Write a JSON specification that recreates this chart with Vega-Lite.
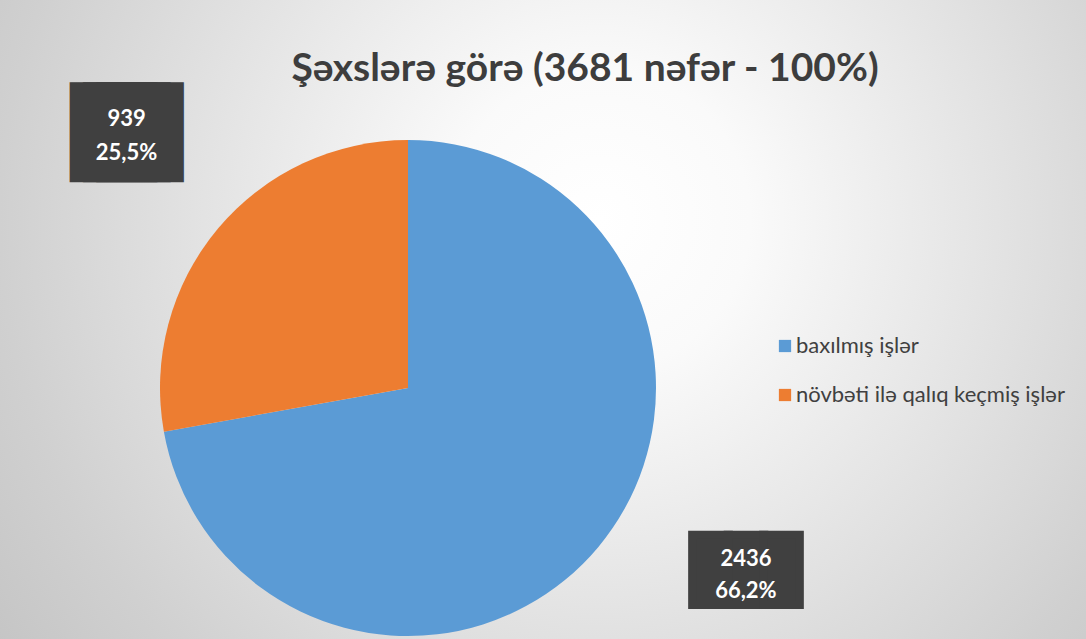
{
  "$schema": "https://vega.github.io/schema/vega-lite/v6.json",
  "width": 496,
  "height": 496,
  "autosize": {"type": "none"},
  "padding": {"left": 160, "top": 140, "right": 430, "bottom": 3},
  "background": "#ffffff",
  "title": {
    "text": "Şəxslərə görə (3681 nəfər - 100%)",
    "font": "Lato",
    "fontSize": 39,
    "fontWeight": "bold",
    "color": "#3d3d3d",
    "anchor": "middle",
    "dx": 177,
    "offset": -701
  },
  "data": {
    "values": [
      {"cat": "baxılmış işlər", "value": 2436, "lab": "2436\n66,2%"},
      {"cat": "növbəti ilə qalıq keçmiş işlər", "value": 939, "lab": "939\n25,5%"}
    ]
  },
  "config": {
    "view": {"stroke": null},
    "legend": {
      "orient": "none",
      "legendX": 614,
      "legendY": 195,
      "title": null,
      "symbolType": "square",
      "symbolSize": 150,
      "symbolStrokeWidth": 0,
      "labelFont": "Lato",
      "labelFontSize": 22,
      "labelColor": "#404040",
      "labelOffset": 0,
      "rowPadding": 27,
      "labelLimit": 400
    }
  },
  "layer": [
    {
      "mark": {
        "type": "arc",
        "theta": 0,
        "theta2": 6.2832,
        "radius": 1000,
        "fill": {
          "gradient": "radial",
          "x1": 0.596, "y1": 0.416, "r1": 0,
          "x2": 0.596, "y2": 0.416, "r2": 0.375,
          "stops": [
            {"offset": 0, "color": "#ffffff"},
            {"offset": 0.2, "color": "#fafafa"},
            {"offset": 0.4, "color": "#ececec"},
            {"offset": 0.6, "color": "#dedede"},
            {"offset": 0.8, "color": "#d0d0d0"},
            {"offset": 1, "color": "#c4c4c4"}
          ]
        }
      },
      "encoding": {}
    },
    {
      "mark": {"type": "arc"},
      "encoding": {
        "theta": {"field": "value", "type": "quantitative", "stack": true},
        "color": {
          "field": "cat",
          "type": "nominal",
          "scale": {"domain": ["baxılmış işlər", "növbəti ilə qalıq keçmiş işlər"], "range": ["#5B9BD5", "#ED7D31"]},
          "legend": {}
        }
      }
    },
    {
      "mark": {"type": "text", "radius": 380, "thetaOffset": 0.04, "font": "DejaVu Sans Mono", "fontSize": 22, "fill": "#404040", "stroke": "#404040", "strokeWidth": 74, "strokeJoin": "miter", "align": "center", "baseline": "middle"},
      "encoding": {
        "theta": {"field": "value", "type": "quantitative", "stack": true},
        "detail": {"field": "cat", "type": "nominal"},
        "text": {"value": "███"},
        "opacity": {"condition": {"test": "datum.cat === 'baxılmış işlər'", "value": 0}, "value": 1}
      }
    },
    {
      "mark": {"type": "text", "radius": 380, "thetaOffset": 0.04, "dy": -14, "font": "Lato", "fontSize": 22, "fontWeight": "bold", "fill": "#ffffff", "align": "center", "baseline": "middle", "lineBreak": "\n", "lineHeight": 34},
      "encoding": {
        "theta": {"field": "value", "type": "quantitative", "stack": true},
        "detail": {"field": "cat", "type": "nominal"},
        "text": {"field": "lab"},
        "opacity": {"condition": {"test": "datum.cat === 'baxılmış işlər'", "value": 0}, "value": 1}
      }
    },
    {
      "mark": {"type": "text", "radius": 385, "thetaOffset": -0.197, "font": "DejaVu Sans Mono", "fontSize": 59, "fill": "#404040", "stroke": "#404040", "strokeWidth": 8, "strokeJoin": "miter", "align": "center", "baseline": "middle"},
      "encoding": {
        "theta": {"field": "value", "type": "quantitative", "stack": true},
        "detail": {"field": "cat", "type": "nominal"},
        "text": {"value": "███"},
        "opacity": {"condition": {"test": "datum.cat === 'baxılmış işlər'", "value": 1}, "value": 0}
      }
    },
    {
      "mark": {"type": "text", "radius": 385, "thetaOffset": -0.197, "dy": -13, "font": "Lato", "fontSize": 22, "fontWeight": "bold", "fill": "#ffffff", "align": "center", "baseline": "middle", "lineBreak": "\n", "lineHeight": 32},
      "encoding": {
        "theta": {"field": "value", "type": "quantitative", "stack": true},
        "detail": {"field": "cat", "type": "nominal"},
        "text": {"field": "lab"},
        "opacity": {"condition": {"test": "datum.cat === 'baxılmış işlər'", "value": 1}, "value": 0}
      }
    }
  ]
}
